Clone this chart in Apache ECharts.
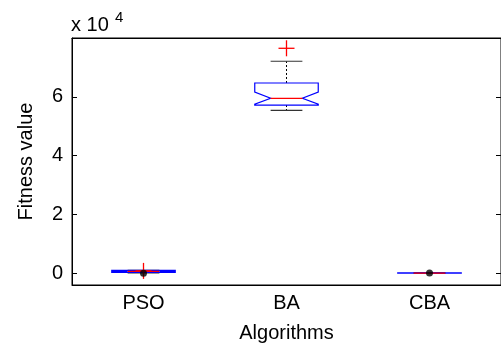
<!DOCTYPE html>
<html>
<head>
<meta charset="utf-8">
<script src="https://cdn.jsdelivr.net/npm/echarts@6/dist/echarts.min.js"></script>
<style>
  html, body { margin: 0; padding: 0; background: #fff; }
  #main { width: 501px; height: 355px; }
</style>
</head>
<body>
<div id="main"></div>
<script>
// box plot numbers (fitness values)
var categories = ['PSO', 'BA', 'CBA'];
var lowerWhisker = [150, 55400, 40];
var q1 = [270, 57200, 50];
var notchLow = [420, 57500, 60];
var median = [610, 59500, 70];
var notchHigh = [780, 61600, 80];
var q3 = [950, 64700, 90];
var upperWhisker = [1000, 72100, 100];
// red + outliers: [category index, value]
var outliers = [[0, 800], [1, 76500]];
// black dots drawn at the centre of the flat boxes
var dots = [[0, 0], [2, 50]];

var yTicks = [0, 20000, 40000, 60000];
var fontName = 'Liberation Sans';
var fontSize = 20;

function getBoxData() {
  var temp = [];
  for (var i = 0; i < categories.length; i++) {
    temp.push([i, lowerWhisker[i], q1[i], notchLow[i], median[i], notchHigh[i], q3[i], upperWhisker[i]]);
  }
  return temp;
}

function renderBox(params, api) {
  var i = api.value(0);
  var bandW = api.size([1, 0])[0];
  var hw = bandW * 0.222;
  var nw = hw / 2;
  var x = api.coord([i, 0])[0];
  var yLw = api.coord([i, api.value(1)])[1];
  var yQ1 = api.coord([i, api.value(2)])[1];
  var yNl = api.coord([i, api.value(3)])[1];
  var yMed = api.coord([i, api.value(4)])[1];
  var yNh = api.coord([i, api.value(5)])[1];
  var yQ3 = api.coord([i, api.value(6)])[1];
  var yUw = api.coord([i, api.value(7)])[1];
  var whiskerStyle = { stroke: '#000', lineWidth: 1, lineDash: [2, 2] };
  var capStyle = { stroke: '#333', lineWidth: 1.2 };
  return {
    type: 'group',
    children: [
      { type: 'line', shape: { x1: x, y1: yQ3, x2: x, y2: yUw }, style: whiskerStyle },
      { type: 'line', shape: { x1: x, y1: yQ1, x2: x, y2: yLw }, style: whiskerStyle },
      { type: 'line', shape: { x1: x - nw, y1: yUw, x2: x + nw, y2: yUw }, style: capStyle },
      { type: 'line', shape: { x1: x - nw, y1: yLw, x2: x + nw, y2: yLw }, style: capStyle },
      {
        type: 'polygon',
        shape: {
          points: [
            [x - hw, yQ3], [x + hw, yQ3], [x + hw, yNh], [x + nw, yMed], [x + hw, yNl],
            [x + hw, yQ1], [x - hw, yQ1], [x - hw, yNl], [x - nw, yMed], [x - hw, yNh]
          ]
        },
        style: { fill: 'none', stroke: '#0000ff', lineWidth: 1.2 }
      },
      { type: 'line', shape: { x1: x - nw, y1: yMed, x2: x + nw, y2: yMed }, style: { stroke: '#ff0000', lineWidth: 1.2 } }
    ]
  };
}

function renderPlus(params, api) {
  var p = api.coord([api.value(0), api.value(1)]);
  var s = 8;
  var st = { stroke: '#ff0000', lineWidth: 1.3 };
  return {
    type: 'group',
    children: [
      { type: 'line', shape: { x1: p[0] - s, y1: p[1], x2: p[0] + s, y2: p[1] }, style: st },
      { type: 'line', shape: { x1: p[0], y1: p[1] - s, x2: p[0], y2: p[1] + s }, style: st }
    ]
  };
}

var chart = echarts.init(document.getElementById('main'), null, { renderer: 'canvas' });

var axisText = { fontFamily: fontName, fontSize: fontSize, color: '#000' };

var option = {
  animation: false,
  backgroundColor: '#fff',
  grid: {
    left: 72,
    right: -3,
    top: 38,
    bottom: 70,
    show: true,
    borderColor: '#000',
    borderWidth: 1,
    backgroundColor: 'transparent'
  },
  xAxis: [
    {
      type: 'category',
      data: categories,
      position: 'bottom',
      name: 'Algorithms',
      nameLocation: 'middle',
      nameGap: 38,
      nameTextStyle: axisText,
      axisLine: { onZero: false, lineStyle: { color: '#000', width: 1 } },
      axisTick: { inside: true, alignWithLabel: true, length: 5, lineStyle: { color: '#000' } },
      axisLabel: { fontFamily: fontName, fontSize: fontSize, color: '#000', margin: 8 },
      splitLine: { show: false }
    },
    {
      type: 'category',
      data: categories,
      position: 'top',
      axisLine: { onZero: false, lineStyle: { color: '#000', width: 1 } },
      axisTick: { inside: true, alignWithLabel: true, length: 5, lineStyle: { color: '#000' } },
      axisLabel: { show: false },
      splitLine: { show: false }
    }
  ],
  yAxis: [
    {
      type: 'value',
      position: 'left',
      min: -4000,
      max: 80000,
      name: 'Fitness value',
      nameLocation: 'middle',
      nameGap: 36,
      nameTextStyle: axisText,
      axisLine: { show: true, onZero: false, lineStyle: { color: '#000', width: 1 } },
      axisTick: { show: true, inside: true, length: 5, customValues: yTicks, lineStyle: { color: '#000' } },
      axisLabel: {
        fontFamily: fontName, fontSize: fontSize, color: '#000', margin: 9,
        customValues: yTicks,
        formatter: function (v) { return String(v / 10000); }
      },
      splitLine: { show: false }
    },
    {
      type: 'value',
      position: 'right',
      min: -4000,
      max: 80000,
      axisLine: { show: true, onZero: false, lineStyle: { color: '#000', width: 1 } },
      axisTick: { show: true, inside: true, length: 5, customValues: yTicks, lineStyle: { color: '#000' } },
      axisLabel: { show: false },
      splitLine: { show: false }
    }
  ],
  graphic: [
    { type: 'text', left: 71, top: 15, style: { text: 'x 10', fontFamily: fontName, fontSize: fontSize, fill: '#000' } },
    { type: 'text', left: 115, top: 10, style: { text: '4', fontFamily: fontName, fontSize: 15, fill: '#000' } }
  ],
  series: [
    {
      name: 'box',
      type: 'custom',
      renderItem: renderBox,
      encode: { x: 0, y: [1, 2, 3, 4, 5, 6, 7] },
      data: getBoxData(),
      z: 2
    },
    {
      name: 'outliers',
      type: 'custom',
      renderItem: renderPlus,
      encode: { x: 0, y: 1 },
      data: outliers,
      z: 3
    },
    {
      name: 'dots',
      type: 'scatter',
      symbol: 'circle',
      symbolSize: 7,
      itemStyle: { color: '#000' },
      data: dots,
      z: 4
    }
  ]
};

chart.setOption(option);
</script>
</body>
</html>
